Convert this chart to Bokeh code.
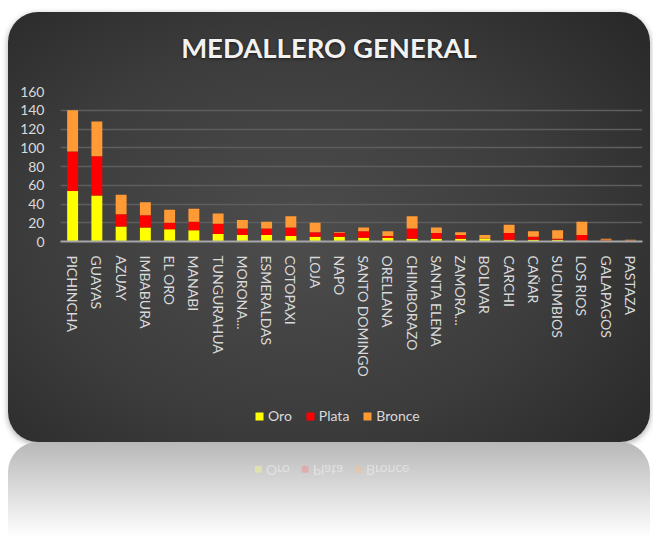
from bokeh.plotting import figure
from bokeh.models import Range1d, Legend, LegendItem, Div, ColumnDataSource, SingleIntervalTicker, Spacer
from bokeh.layouts import column, row
from bokeh.embed import file_html
from bokeh.resources import INLINE

titulo = "MEDALLERO GENERAL"
provincias = ["PICHINCHA", "GUAYAS", "AZUAY", "IMBABURA", "EL ORO", "MANABI",
              "TUNGURAHUA", "MORONA...", "ESMERALDAS", "COTOPAXI", "LOJA", "NAPO",
              "SANTO DOMINGO", "ORELLANA", "CHIMBORAZO", "SANTA ELENA", "ZAMORA...",
              "BOLIVAR", "CARCHI", "CAÑAR", "SUCUMBIOS", "LOS RIOS", "GALAPAGOS", "PASTAZA"]
oro =    [54, 49, 16, 15, 13, 12, 8, 7, 7, 6, 5, 5, 4, 4, 3, 3, 3, 3, 2, 2, 2, 1, 1, 0]
plata =  [42, 42, 13, 13, 7, 9, 11, 7, 7, 9, 5, 4, 7, 2, 11, 6, 4, 0, 7, 3, 1, 6, 1, 1]
bronce = [44, 37, 21, 14, 14, 14, 11, 9, 7, 12, 10, 1, 4, 5, 13, 6, 3, 4, 9, 6, 9, 14, 1, 1]
series = ["Oro", "Plata", "Bronce"]
colores = ["#ffff00", "#ff0000", "#ff9a35"]
y_ticks_interval = 20

FONT = "Lato"
LABEL = "#d9d9d9"

src = ColumnDataSource(dict(prov=provincias, Oro=oro, Plata=plata, Bronce=bronce))

title_div = Div(
    text=('<div style="width:614px; padding-left:28px; margin-top:19px; text-align:center; '
          'font-family: Lato; font-size: 27.5px; font-weight: bold; line-height: 33px; '
          'color: #f2f2f2; text-shadow: 0 1px 3px rgba(0,0,0,0.6);">' + titulo + '</div>'),
    width=642, height=62, margin=(0, 0, 0, 0))

p = figure(x_range=provincias, y_range=Range1d(0, 160), width=642, height=318,
           output_backend="svg", toolbar_location=None,
           min_border_left=52, min_border_right=8, min_border_top=17, min_border_bottom=151)
p.border_fill_alpha = 0
p.background_fill_alpha = 0
p.outline_line_color = None

rs = p.vbar_stack(series, x="prov", width=0.45, color=colores, source=src, line_color=None)

p.yaxis.ticker = SingleIntervalTicker(interval=y_ticks_interval)
p.yaxis.axis_line_color = None
p.yaxis.major_tick_line_color = None
p.yaxis.minor_tick_line_color = None
p.yaxis.major_label_text_font = FONT
p.yaxis.major_label_text_font_size = "14px"
p.yaxis.major_label_text_color = LABEL
p.yaxis.major_label_standoff = 10

p.xaxis.axis_line_color = "#a6a6a6"
p.xaxis.axis_line_width = 2
p.xaxis.major_tick_line_color = None
p.xaxis.major_label_orientation = "vertical"
p.xaxis.major_label_text_font = FONT
p.xaxis.major_label_text_font_size = "14px"
p.xaxis.major_label_text_color = LABEL
p.xaxis.major_label_standoff = 8

p.xgrid.grid_line_color = None
p.ygrid.grid_line_color = "#5e5e5e"
p.ygrid.grid_line_width = 1.5

# legend strip below the chart: same series and colours, drawn out of view
p2 = figure(width=642, height=50, output_backend="svg", toolbar_location=None,
            x_range=p.x_range, y_range=Range1d(1000, 1001),
            x_axis_type=None, y_axis_type=None, min_border=0)
p2.border_fill_alpha = 0
p2.background_fill_alpha = 0
p2.outline_line_color = None
p2.grid.visible = False
leg_rs = p2.vbar_stack(series, x="prov", width=0.45, color=colores, source=src, line_color=None)
legend = Legend(items=[LegendItem(label=s, renderers=[r]) for s, r in zip(series, leg_rs)],
                orientation="horizontal", location=(194, 18))
legend.background_fill_alpha = 0
legend.border_line_alpha = 0
legend.glyph_width = 10
legend.glyph_height = 10
legend.label_standoff = 4
legend.spacing = 13
legend.padding = 0
legend.margin = 0
legend.label_text_font = FONT
legend.label_text_font_size = "14px"
legend.label_text_color = LABEL
p2.add_layout(legend)

card = column(title_div, p, p2, spacing=0)
card.styles = {
    "background": "radial-gradient(ellipse 75% 80% at 45% 52%, #4d4d4d 0%, #3c3c3c 55%, #262626 100%)",
    "border-radius": "30px",
    "box-shadow": "0 2px 6px rgba(0,0,0,0.35)",
}

refl_html = (
    '<div style="transform: scaleY(-1); opacity: 0.4; filter: blur(0.6px); margin-top: 18px; '
    'font-family: Lato; font-size: 14px; color: #ffffff; padding-left: 246px;">'
    '<span style="color:#ffff80">&#9632;</span> Oro &nbsp; '
    '<span style="color:#ff8080">&#9632;</span> Plata &nbsp; '
    '<span style="color:#ffc080">&#9632;</span> Bronce</div>'
)
refl = Div(text=refl_html, width=642, height=96, margin=(0, 0, 0, 0))
refl.styles = {
    "background": "linear-gradient(to bottom, #b8b8b8 0%, #d8d8d8 45%, #ffffff 100%)",
    "border-radius": "30px 30px 0 0",
}

layout = row(Spacer(width=8), column(Spacer(height=12), card, refl, spacing=0), spacing=0)
open("out.html", "w").write(file_html(layout, INLINE))
